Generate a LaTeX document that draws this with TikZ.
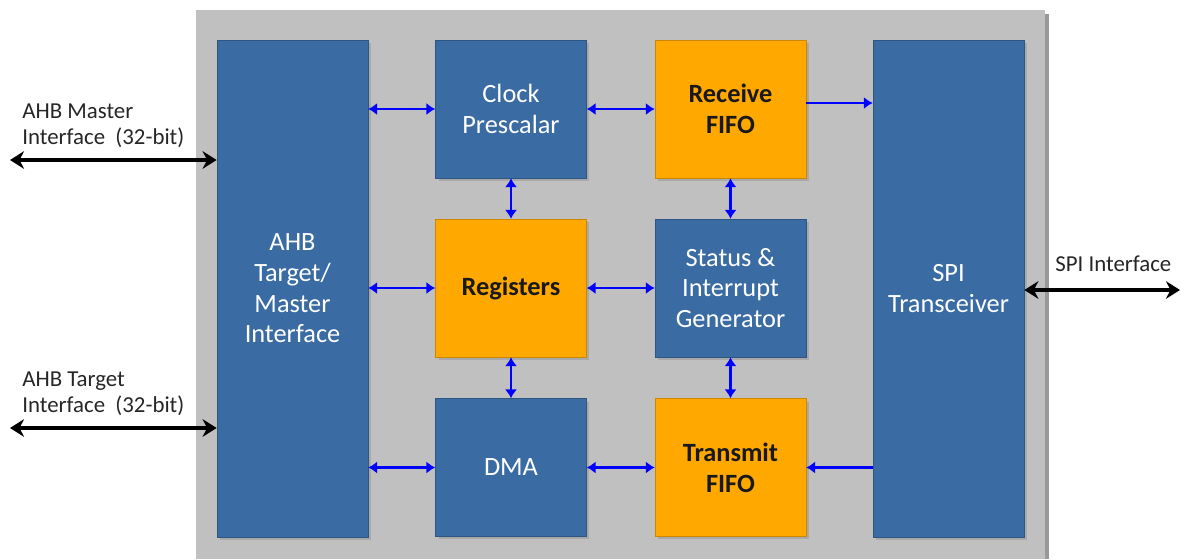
\documentclass[tikz,border=0pt]{standalone}
\usepackage{fontspec}
\setmainfont{Carlito}
\usepackage{tikz}
\usetikzlibrary{arrows.meta,shadows,calc}
\definecolor{blkblue}{HTML}{3A6CA3}
\definecolor{blkorange}{HTML}{FFA800}
\definecolor{bggray}{HTML}{C0C0C0}
\tikzset{
  blue block/.style={draw=blkblue!80!black, fill=blkblue, text=white,
    minimum width=3.02cm, minimum height=2.76cm, align=center, font=\fontsize{15}{17.5}\selectfont,
    drop shadow={opacity=0.35, shadow xshift=0.06cm, shadow yshift=-0.06cm}},
  orange block/.style={blue block, draw=blkorange!80!black, fill=blkorange, text=black!90,
    font=\fontsize{15}{17.5}\selectfont\bfseries},
  tall block/.style={blue block, minimum height=9.94cm},
  bus/.style={draw=blue, line width=1.3pt, {Latex[length=5pt,width=7pt]}-{Latex[length=5pt,width=7pt]}},
  onebus/.style={draw=blue, line width=1.3pt, -{Latex[length=5pt,width=7pt]}},
  ext/.style={draw=black, line width=2.4pt, {Stealth[length=8pt,width=10pt]}-{Stealth[length=8pt,width=10pt]}},
  extlabel/.style={align=left, inner sep=0pt, font=\fontsize{13}{15}\selectfont, text=black!85}
}
\begin{document}
\begin{tikzpicture}[x=0.02cm,y=-0.02cm]
  \useasboundingbox (0,0) rectangle (1181,559);
  % gray housing
  \fill[black!40] (200,14) rectangle (1049,559);
  \fill[bggray] (196,10) rectangle (1045,559);

  % blocks
  \node[tall block]   (ahb)  at (292.5,288.5) {AHB\\Target/\\Master\\Interface};
  \node[blue block]   (clk)  at (511,109)     {Clock\\Prescalar};
  \node[orange block] (rx)   at (730.5,109)   {Receive\\FIFO};
  \node[tall block]   (spi)  at (948.5,288.5) {SPI\\Transceiver};
  \node[orange block] (reg)  at (511,288)     {Registers};
  \node[blue block]   (stat) at (730.5,288)   {Status \&\\Interrupt\\Generator};
  \node[blue block]   (dma)  at (511,467.5)   {DMA};
  \node[orange block] (tx)   at (730.5,467.5) {Transmit\\FIFO};

  % internal buses
  \draw[bus] (ahb.east |- clk.west) -- (clk.west);
  \draw[bus] (ahb.east |- reg.west) -- (reg.west);
  \draw[bus] (ahb.east |- dma.west) -- (dma.west);
  \draw[bus] (clk) -- (rx);
  \draw[bus] (reg) -- (stat);
  \draw[bus] (dma) -- (tx);
  \draw[bus] (clk) -- (reg);
  \draw[bus] (reg) -- (dma);
  \draw[bus] (rx) -- (stat);
  \draw[bus] (stat) -- (tx);
  \draw[onebus] ($(rx.east)+(0,-6)$) -- (spi.west |- {$(rx.east)+(0,-6)$});
  \draw[onebus] (spi.west |- tx.east) -- (tx.east);

  % external interfaces
  \coordinate (mst) at (10,160);
  \coordinate (tgt) at (10,428);
  \coordinate (spio) at (1180,290);
  \draw[ext] (mst) -- (ahb.west |- mst);
  \draw[ext] (tgt) -- (ahb.west |- tgt);
  \draw[ext] (spi.east |- spio) -- (spio);
  \node[extlabel, anchor=south west] (mstl) at (22,148) {AHB Master\\Interface\ \ (32-bit)};
  \node[extlabel, anchor=south west] (tgtl) at (22,416) {AHB Target\\Interface\ \ (32-bit)};
  \node[extlabel, anchor=south west] (spil) at (1055,272) {SPI Interface};
\end{tikzpicture}
\end{document}
